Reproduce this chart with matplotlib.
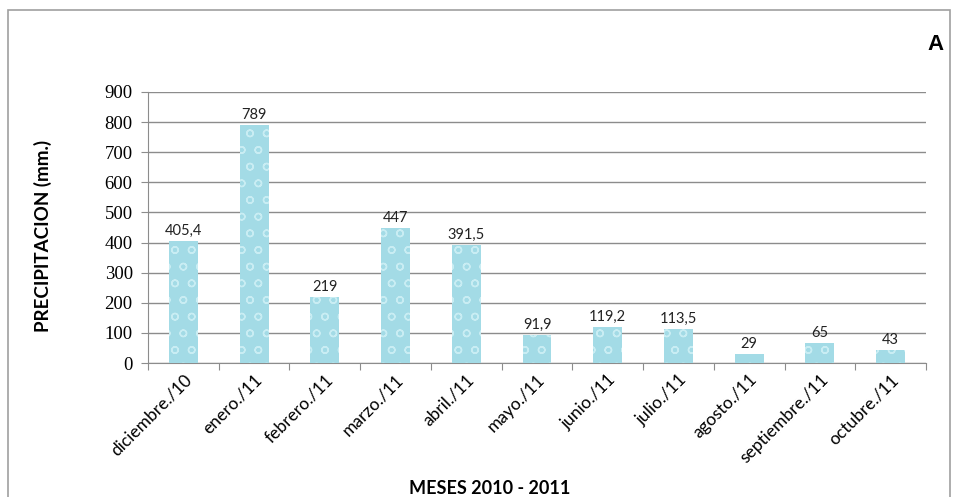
import matplotlib.pyplot as plt
from matplotlib.patches import Rectangle

meses = ['diciembre./10', 'enero./11', 'febrero./11', 'marzo./11', 'abril./11',
         'mayo./11', 'junio./11', 'julio./11', 'agosto./11', 'septiembre./11',
         'octubre./11']
precipitacion = [405.4, 789, 219, 447, 391.5, 91.9, 119.2, 113.5, 29, 65, 43]
etiquetas = ['405,4', '789', '219', '447', '391,5', '91,9', '119,2', '113,5',
             '29', '65', '43']
y_ticks = list(range(0, 1000, 100))

fig = plt.figure(figsize=(9.55, 4.97), dpi=100)
# marco exterior
fig.patches.append(Rectangle((8 / 955, -0.05), 0.995 - 8 / 955, 1 - 10 / 497 + 0.05,
                             transform=fig.transFigure, fill=False,
                             edgecolor='#a0a0a0', linewidth=1.2))

ax = fig.add_axes([148 / 955, 1 - 363 / 497, (926 - 148) / 955, (363 - 92) / 497])
x = range(len(meses))
ax.bar(x, precipitacion, width=0.41, color='#a3dbe6', edgecolor='#c9edf3',
       hatch='o', linewidth=0, zorder=3)

for i, (v, t) in enumerate(zip(precipitacion, etiquetas)):
    ax.text(i, v + 10, t, ha='center', va='bottom', fontsize=10.5,
            family='Lato', color='#222222')

ax.set_xlim(-0.5, len(meses) - 0.5)
ax.set_ylim(0, 900)
ax.set_yticks(y_ticks)
ax.set_yticklabels([str(v) for v in y_ticks], family='Liberation Serif', fontsize=13.5)
ax.yaxis.grid(True, color='#8c8c8c', linewidth=1)
ax.set_axisbelow(True)

ax.set_xticks([i - 0.5 for i in range(len(meses) + 1)], minor=False)
ax.set_xticklabels([])
ax.set_xticks(list(x), minor=True)
ax.set_xticklabels(meses, minor=True, rotation=45, ha='right', rotation_mode='anchor',
                   family='Lato', fontsize=12.5)
ax.tick_params(axis='x', which='minor', length=0, pad=6)
ax.tick_params(axis='x', which='major', length=5, color='#8c8c8c')
ax.tick_params(axis='y', length=5, color='#8c8c8c', pad=6)

for s in ['top', 'right']:
    ax.spines[s].set_visible(False)
for s in ['left', 'bottom']:
    ax.spines[s].set_color('#8c8c8c')

fig.text(490 / 955, 1 - 488 / 497, 'MESES 2010 - 2011', ha='center', va='center',
         fontsize=13, fontweight='bold', family='Lato')
fig.text(43 / 955, 1 - 236 / 497, 'PRECIPITACION (mm.)', ha='center', va='center',
         rotation=90, fontsize=13.5, fontweight='bold', family='Lato')
fig.text(935 / 955, 1 - 45 / 497, 'A', ha='center', va='center',
         fontsize=16, fontweight='bold', family='Liberation Sans')

fig.savefig('out.png', dpi=100)
